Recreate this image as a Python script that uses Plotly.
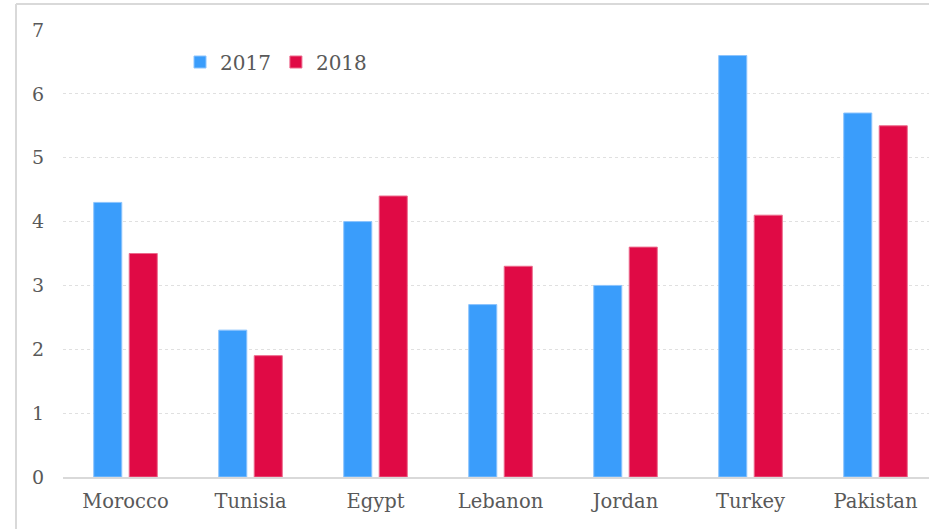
import plotly.graph_objects as go

categories = ["Morocco", "Tunisia", "Egypt", "Lebanon", "Jordan", "Turkey", "Pakistan"]
values_2017 = [4.3, 2.3, 4.0, 2.7, 3.0, 6.6, 5.7]
values_2018 = [3.5, 1.9, 4.4, 3.3, 3.6, 4.1, 5.5]
y_ticks = [0, 1, 2, 3, 4, 5, 6, 7]

BLUE = "#3A9DFB"
RED = "#E00A45"
TXT = "#595959"
FONT = "DejaVu Serif"

fig = go.Figure()
fig.add_trace(go.Bar(x=categories, y=values_2017, name="2017",
                     marker=dict(color=BLUE, line=dict(color="#8CC4FD", width=1))))
fig.add_trace(go.Bar(x=categories, y=values_2018, name="2018",
                     marker=dict(color=RED, line=dict(color="#EC6A8C", width=1))))

W, H = 929, 529
L, R, T, B = 63, 0, 30, 52
pw, ph = W - L - R, H - T - B

fig.update_layout(
    width=W, height=H,
    margin=dict(l=L, r=R, t=T, b=B, pad=0),
    paper_bgcolor="white", plot_bgcolor="white",
    barmode="group", bargap=0.432, bargroupgap=0.21,
    font=dict(family=FONT, size=19, color=TXT),
    showlegend=True,
    legend=dict(orientation="h", x=(180 - L) / pw, y=(H - B - 62) / ph,
                xanchor="left", yanchor="middle",
                font=dict(family=FONT, size=20, color=TXT),
                itemwidth=30, bgcolor="rgba(0,0,0,0)", traceorder="normal"),
    xaxis=dict(range=[-0.5, -0.5 + pw / 125.0], showgrid=False, showline=True,
               linecolor="#D9D9D9", linewidth=2, ticks="", zeroline=False,
               tickfont=dict(family=FONT, size=19.5, color=TXT), ticklabelstandoff=6),
    yaxis=dict(range=[0, 7], tickvals=y_ticks, showgrid=True, gridcolor="#E0E0E0",
               griddash="dot", gridwidth=1, zeroline=False, showline=False, ticks="",
               tickfont=dict(family=FONT, size=19, color=TXT), ticklabelstandoff=18),
    shapes=[
        dict(type="line", xref="paper", yref="paper",
             x0=(16 - L) / pw, x1=1.05, y0=(H - B - 4) / ph, y1=(H - B - 4) / ph,
             line=dict(color="#D9D9D9", width=2)),
        dict(type="line", xref="paper", yref="paper",
             x0=(16 - L) / pw, x1=(16 - L) / pw, y0=-0.2, y1=(H - B - 4) / ph,
             line=dict(color="#D9D9D9", width=2)),
    ],
)

fig.write_html(
    "out.html",
    config={"displayModeBar": False},
    post_script="document.body.style.margin='0';document.body.style.overflow='hidden';",
)
